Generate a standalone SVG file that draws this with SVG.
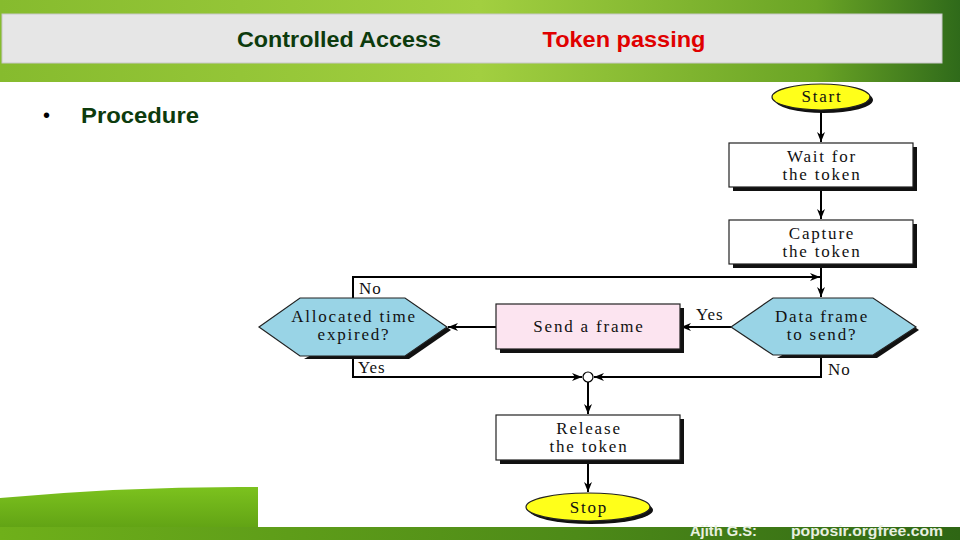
<svg xmlns="http://www.w3.org/2000/svg" width="960" height="540" viewBox="0 0 960 540">
<defs>
<linearGradient id="grassTop" x1="0" y1="0" x2="1" y2="0">
<stop offset="0" stop-color="#86bb2e"/>
<stop offset="0.5" stop-color="#a2cf40"/>
<stop offset="0.85" stop-color="#6aa425"/>
<stop offset="1" stop-color="#2f6a1a"/>
</linearGradient>
<linearGradient id="grassBot" x1="0" y1="0" x2="0" y2="1">
<stop offset="0" stop-color="#7cc21e"/>
<stop offset="1" stop-color="#5a9a12"/>
</linearGradient>
<linearGradient id="grassStrip" x1="0" y1="0" x2="1" y2="0">
<stop offset="0" stop-color="#6fb01a"/>
<stop offset="0.6" stop-color="#4d8a18"/>
<stop offset="1" stop-color="#2e6614"/>
</linearGradient>
<marker id="arr" viewBox="0 0 10 10" refX="10" refY="5" markerWidth="10" markerHeight="10" markerUnits="userSpaceOnUse" orient="auto">
<path d="M0,1 L10,5 L0,9 L3,5 Z" fill="#000"/>
</marker>
<style>
.fc{font-family:"Liberation Serif","Times New Roman",serif;font-size:17px;letter-spacing:1.8px;fill:#111;text-anchor:middle}
.lbl{font-family:"Liberation Serif","Times New Roman",serif;font-size:17px;letter-spacing:1px;fill:#111}
.box{stroke:#222;stroke-width:1.2}
.shadow{fill:#111}
.ln{stroke:#000;stroke-width:2;fill:none}
.foot{font-family:"Liberation Sans",Arial,sans-serif;font-weight:bold;font-size:14px;fill:#e8f0e0}
</style>
</defs>
<!-- background -->
<rect x="0" y="0" width="960" height="540" fill="#ffffff"/>
<rect x="0" y="0" width="960" height="82" fill="url(#grassTop)"/>
<rect x="2" y="14" width="940" height="49" fill="#e6e6e6" stroke="#c8c8c8" stroke-width="1"/>
<text x="339" y="47" font-family="Liberation Sans, Arial, sans-serif" font-weight="bold" font-size="22" fill="#0d3b0d" text-anchor="middle" textLength="204" lengthAdjust="spacingAndGlyphs">Controlled Access</text>
<text x="624" y="47" font-family="Liberation Sans, Arial, sans-serif" font-weight="bold" font-size="22" fill="#e00000" text-anchor="middle" textLength="163" lengthAdjust="spacingAndGlyphs">Token passing</text>
<text x="43" y="122" font-family="Liberation Sans, Arial, sans-serif" font-size="20" fill="#000">•</text>
<text x="81" y="123" font-family="Liberation Sans, Arial, sans-serif" font-weight="bold" font-size="22" fill="#0d3b0d" textLength="118" lengthAdjust="spacingAndGlyphs">Procedure</text>
<!-- bottom grass -->
<path d="M0,498 Q130,486 258,487 L258,540 L0,540 Z" fill="url(#grassBot)"/>
<rect x="0" y="527" width="960" height="13" fill="url(#grassStrip)"/>
<text class="foot" x="690" y="536" textLength="67" lengthAdjust="spacingAndGlyphs">Ajith G.S:</text>
<text class="foot" x="791" y="536" textLength="152" lengthAdjust="spacingAndGlyphs">poposir.orgfree.com</text>

<!-- connectors -->
<g id="connectors">
<line class="ln" x1="821" y1="111" x2="821" y2="142" marker-end="url(#arr)"/>
<line class="ln" x1="821" y1="188" x2="821" y2="219" marker-end="url(#arr)"/>
<line class="ln" x1="821" y1="265" x2="821" y2="297" marker-end="url(#arr)"/>
<polyline class="ln" points="353,298 353,277 820,277" marker-end="url(#arr)"/>
<line class="ln" x1="731" y1="327" x2="681" y2="327" marker-end="url(#arr)"/>
<line class="ln" x1="496" y1="327" x2="448" y2="327" marker-end="url(#arr)"/>
<polyline class="ln" points="353,356 353,377 582,377" marker-end="url(#arr)"/>
<polyline class="ln" points="821,355 821,377 594,377" marker-end="url(#arr)"/>
<line class="ln" x1="588" y1="382" x2="588" y2="414" marker-end="url(#arr)"/>
<line class="ln" x1="588" y1="461" x2="588" y2="492" marker-end="url(#arr)"/>
<circle cx="588" cy="377" r="5" fill="#fff" stroke="#000" stroke-width="1.2"/>
<text class="lbl" x="359" y="294">No</text>
<text class="lbl" x="358" y="373">Yes</text>
<text class="lbl" x="696" y="320">Yes</text>
<text class="lbl" x="828" y="375">No</text>
</g>

<g id="start">
<ellipse class="shadow" cx="824" cy="100" rx="49" ry="13"/>
<ellipse cx="821" cy="97" rx="49" ry="13" fill="#ffff1a" stroke="#222" stroke-width="1.2"/>
<text class="fc" x="822" y="102">Start</text>
</g>
<g id="wait">
<rect class="shadow" x="733" y="147" width="184" height="44"/>
<rect class="box" x="729" y="143" width="184" height="44" fill="#fff"/>
<text class="fc" x="822" y="162">Wait for</text>
<text class="fc" x="822" y="180">the token</text>
</g>
<g id="capture">
<rect class="shadow" x="733" y="224" width="184" height="44"/>
<rect class="box" x="729" y="220" width="184" height="44" fill="#fff"/>
<text class="fc" x="822" y="239">Capture</text>
<text class="fc" x="822" y="257">the token</text>
</g>
<g id="dataframe">
<polygon class="shadow" points="877,301 919,330 877,358 777,358"/>
<polygon class="box" points="731,327 773,298 873,298 916,327 873,355 773,355" fill="#99d4e6"/>
<text class="fc" x="822" y="322">Data frame</text>
<text class="fc" x="822" y="340">to send?</text>
</g>
<g id="sendframe">
<rect class="shadow" x="500" y="308" width="184" height="45"/>
<rect class="box" x="496" y="304" width="184" height="45" fill="#fce4f0"/>
<text class="fc" x="589" y="332">Send a frame</text>
</g>
<g id="allocated">
<polygon class="shadow" points="409,301 451,330 409,359 304,359"/>
<polygon class="box" points="259,327 300,298 405,298 447,327 405,356 300,356" fill="#99d4e6"/>
<text class="fc" x="354" y="322">Allocated time</text>
<text class="fc" x="354" y="340">expired?</text>
</g>
<g id="release">
<rect class="shadow" x="500" y="419" width="184" height="45"/>
<rect class="box" x="496" y="415" width="184" height="45" fill="#fff"/>
<text class="fc" x="589" y="434">Release</text>
<text class="fc" x="589" y="452">the token</text>
</g>
<g id="stop">
<ellipse class="shadow" cx="591" cy="510" rx="62" ry="14"/>
<ellipse cx="588" cy="507" rx="62" ry="14" fill="#ffff1a" stroke="#222" stroke-width="1.2"/>
<text class="fc" x="589" y="513">Stop</text>
</g>
</svg>
